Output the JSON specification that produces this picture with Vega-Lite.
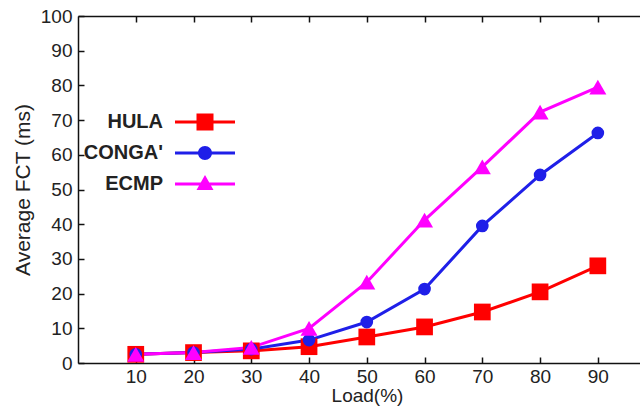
{
  "$schema": "https://vega.github.io/schema/vega-lite/v6.json",
  "width": 562,
  "height": 347,
  "autosize": "none",
  "padding": {"left": 78, "top": 16, "right": 0, "bottom": 45},
  "background": "white",
  "config": {
    "view": {"stroke": null},
    "font": "Liberation Sans",
    "axis": {
      "domainColor": "#111",
      "domainWidth": 1.5,
      "tickColor": "#111",
      "tickWidth": 1.5,
      "labelColor": "#222",
      "titleColor": "#222",
      "labelFont": "Liberation Sans",
      "titleFont": "Liberation Sans",
      "labelFontSize": 19,
      "titleFontSize": 19,
      "titleFontWeight": "normal",
      "labelOverlap": false,
      "grid": false
    }
  },
  "data": {
    "values": [
      {"load": 10, "fct": 2.5, "scheme": "HULA"},
      {"load": 20, "fct": 3.0, "scheme": "HULA"},
      {"load": 30, "fct": 3.5, "scheme": "HULA"},
      {"load": 40, "fct": 4.7, "scheme": "HULA"},
      {"load": 50, "fct": 7.5, "scheme": "HULA"},
      {"load": 60, "fct": 10.4, "scheme": "HULA"},
      {"load": 70, "fct": 14.7, "scheme": "HULA"},
      {"load": 80, "fct": 20.5, "scheme": "HULA"},
      {"load": 90, "fct": 28.0, "scheme": "HULA"},
      {"load": 10, "fct": 2.5, "scheme": "CONGA'"},
      {"load": 20, "fct": 3.0, "scheme": "CONGA'"},
      {"load": 30, "fct": 4.0, "scheme": "CONGA'"},
      {"load": 40, "fct": 6.6, "scheme": "CONGA'"},
      {"load": 50, "fct": 11.8, "scheme": "CONGA'"},
      {"load": 60, "fct": 21.3, "scheme": "CONGA'"},
      {"load": 70, "fct": 39.5, "scheme": "CONGA'"},
      {"load": 80, "fct": 54.2, "scheme": "CONGA'"},
      {"load": 90, "fct": 66.3, "scheme": "CONGA'"},
      {"load": 10, "fct": 2.5, "scheme": "ECMP"},
      {"load": 20, "fct": 3.0, "scheme": "ECMP"},
      {"load": 30, "fct": 4.5, "scheme": "ECMP"},
      {"load": 40, "fct": 10.0, "scheme": "ECMP"},
      {"load": 50, "fct": 23.3, "scheme": "ECMP"},
      {"load": 60, "fct": 41.2, "scheme": "ECMP"},
      {"load": 70, "fct": 56.5, "scheme": "ECMP"},
      {"load": 80, "fct": 72.3, "scheme": "ECMP"},
      {"load": 90, "fct": 79.5, "scheme": "ECMP"}
    ]
  },
  "resolve": {"axis": {"x": "independent"}},
  "layer": [
    {
      "mark": {"type": "line", "strokeWidth": 3},
      "encoding": {
        "x": {
          "field": "load", "type": "quantitative",
          "scale": {"domain": [0, 97.3], "nice": false, "zero": false},
          "axis": {
            "orient": "bottom", "values": [10, 20, 30, 40, 50, 60, 70, 80, 90],
            "tickSize": -6, "labelPadding": 10, "title": "Load(%)",
            "titlePadding": 0, "titleX": 289
          }
        },
        "y": {
          "field": "fct", "type": "quantitative",
          "scale": {"domain": [0, 100], "nice": false},
          "axis": {
            "values": [0, 10, 20, 30, 40, 50, 60, 70, 80, 90, 100],
            "tickSize": -6, "labelPadding": 12, "title": "Average FCT (ms)",
            "titlePadding": 7, "titleFontSize": 21
          }
        },
        "color": {
          "field": "scheme", "type": "nominal",
          "scale": {"domain": ["HULA", "CONGA'", "ECMP"], "range": ["#ff0000", "#1f1fe8", "#ff00ff"]},
          "legend": {
            "orient": "none",
            "legendX": 117,
            "legendY": 96,
            "title": null,
            "padding": 0,
            "rowPadding": 11,
            "symbolSize": 400,
            "symbolStrokeWidth": 0,
            "labelFont": "Liberation Sans",
            "labelFontSize": 20,
            "labelFontWeight": "bold",
            "labelColor": "#222",
            "labelAlign": "right",
            "labelOffset": -52,
            "encode": {
              "symbols": {
                "update": {
                  "shape": {"signal": "datum.value === 'HULA' ? 'M-3,-0.15H3V0.15H-3Z M-0.85,-0.85H0.85V0.85H-0.85Z' : datum.value === 'ECMP' ? 'M-3,-0.15H3V0.15H-3Z M0,-0.9L0.85,0.6L-0.85,0.6Z' : 'M-3,-0.15H3V0.15H-3Z M-0.7,0A0.7,0.7 0 1,1 0.7,0A0.7,0.7 0 1,1 -0.7,0Z'"},
                  "fill": {"signal": "datum.value === 'HULA' ? '#ff0000' : datum.value === 'ECMP' ? '#ff00ff' : '#1f1fe8'"},
                  "fillOpacity": {"value": 1},
                  "opacity": {"value": 1},
                  "stroke": {"value": "transparent"},
                  "strokeWidth": {"value": 0}
                }
              }
            }
          }
        }
      }
    },
    {
      "transform": [{"filter": "datum.scheme === 'HULA'"}],
      "mark": {"type": "point", "filled": true, "opacity": 1, "shape": "square", "size": 280},
      "encoding": {
        "x": {
          "field": "load", "type": "quantitative",
          "scale": {"domain": [0, 97.3], "nice": false, "zero": false},
          "axis": {
            "orient": "top", "values": [10, 20, 30, 40, 50, 60, 70, 80, 90],
            "tickSize": -6, "labels": false, "title": null
          }
        },
        "y": {
          "field": "fct", "type": "quantitative",
          "axis": {
            "values": [0, 10, 20, 30, 40, 50, 60, 70, 80, 90, 100],
            "tickSize": -6, "labelPadding": 12, "title": "Average FCT (ms)",
            "titlePadding": 7, "titleFontSize": 21
          }
        },
        "color": {"field": "scheme", "type": "nominal", "legend": null}
      }
    },
    {
      "transform": [{"filter": "datum.scheme === \"CONGA'\""}],
      "mark": {"type": "point", "filled": true, "opacity": 1, "shape": "circle", "size": 160},
      "encoding": {
        "x": {"field": "load", "type": "quantitative", "axis": null},
        "y": {
          "field": "fct", "type": "quantitative",
          "axis": {
            "values": [0, 10, 20, 30, 40, 50, 60, 70, 80, 90, 100],
            "tickSize": -6, "labelPadding": 12, "title": "Average FCT (ms)",
            "titlePadding": 7, "titleFontSize": 21
          }
        },
        "color": {"field": "scheme", "type": "nominal", "legend": null}
      }
    },
    {
      "transform": [{"filter": "datum.scheme === 'ECMP'"}],
      "mark": {"type": "point", "filled": true, "opacity": 1, "shape": "triangle-up", "size": 290},
      "encoding": {
        "x": {"field": "load", "type": "quantitative", "axis": null},
        "y": {
          "field": "fct", "type": "quantitative",
          "axis": {
            "values": [0, 10, 20, 30, 40, 50, 60, 70, 80, 90, 100],
            "tickSize": -6, "labelPadding": 12, "title": "Average FCT (ms)",
            "titlePadding": 7, "titleFontSize": 21
          }
        },
        "color": {"field": "scheme", "type": "nominal", "legend": null}
      }
    }
  ]
}
